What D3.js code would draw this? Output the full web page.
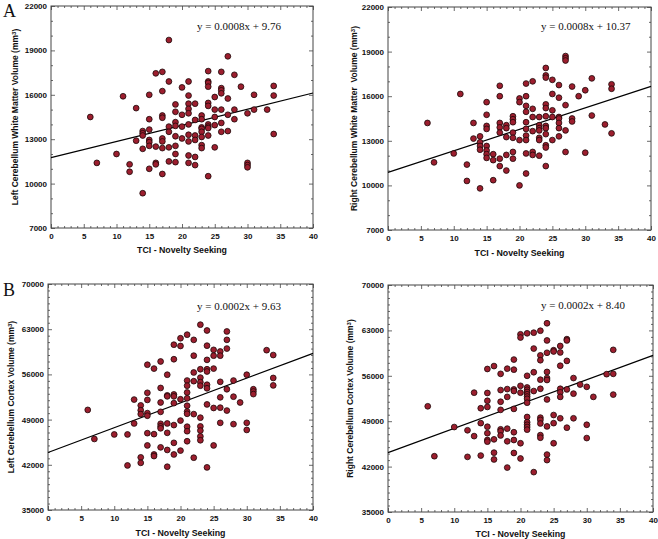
<!DOCTYPE html>
<html>
<head>
<meta charset="utf-8">
<script src="https://cdn.jsdelivr.net/npm/d3@7"></script>
<style>
html,body{margin:0;padding:0;background:#fff;}
svg{display:block;}
</style>
</head>
<body>
<script>
// ---------- DATA ----------
const xTicks = [0, 5, 10, 15, 20, 25, 30, 35, 40];
const yTicksWM = [7000, 10000, 13000, 16000, 19000, 22000];
const yTicksCx = [35000, 42000, 49000, 56000, 63000, 70000];
const xLabel = "TCI - Novelty Seeking";
const yLabels = ["Left Cerebellum White Matter Volume", "Right Cerebellum White Matter  Volume",
                 "Left Cerebellum Cortex Volume", "Right Cerebellum Cortex Volume"];
const equations = ["y = 0.0008x + 9.76", "y = 0.0008x + 10.37", "y = 0.0002x + 9.63", "y = 0.0002x + 8.40"];
const panelLetters = ["A", "B"];

// regression line values at x = 0 and x = 40
const lineLeftWM = [11750, 16120];
const lineRightWM = [10880, 16660];
const lineLeftCx = [43900, 59250];
const lineRightCx = [44150, 59150];

const leftWM = [
[6,14500],[7,11400],[10,12000],[11,15900],[12,11300],[12,10800],[13,15100],[13,12900],
[14,13550],[14,13400],[14,13250],[14,12350],[14,9350],
[15,16000],[15,14350],[15,13650],[15,12950],[15,12800],[15,12550],[15,11000],
[16,17450],[16,12500],[16,11400],[16,11300],
[17,17550],[17,16250],[17,14600],[17,14450],[17,13050],[17,12850],[17,12400],[17,10650],
[18,19700],[18,16900],[18,13850],[18,13500],[18,12450],[18,11500],
[19,15350],[19,14850],[19,14150],[19,13900],[19,13200],[19,12550],[19,12000],[19,11450],
[20,16500],[20,14650],[20,13850],[20,13050],
[21,16900],[21,15950],[21,15400],[21,15050],[21,14750],[21,14000],[21,13300],[21,12850],[21,11900],[21,11400],
[22,15400],[22,14300],[22,13250],[22,12950],[22,11800],[22,11250],
[23,14600],[23,14350],[23,13800],[23,13700],[23,13500],[23,13150],[23,12600],[23,12400],
[24,17600],[24,16900],[24,16800],[24,16550],[24,15450],[24,15250],[24,14000],[24,13850],[24,13750],[24,13250],[24,10500],
[25,15850],[25,15000],[25,14500],[25,13950],[25,12450],
[26,17550],[26,16450],[26,16300],[26,16100],[26,15000],[26,14100],[26,13500],
[27,18600],[27,15750],[27,14650],[27,13550],
[28,17350],[28,15000],[28,14350],
[29,16550],
[30,14750],[30,11400],[30,11250],[30,11100],
[31,16000],[31,15000],
[33,15000],
[34,16600],[34,15950],[34,13350]
];

const rightWM = [
[6,14200],[7,11550],[10,12150],[11,16150],[12,11400],[12,10300],[13,14200],[13,13150],
[14,13300],[14,12900],[14,12650],[14,12400],[14,9800],
[15,15600],[15,14750],[15,14000],[15,13800],[15,12650],[15,12350],[15,12100],[15,11850],
[16,12100],[16,11700],[16,10350],
[17,16700],[17,16000],[17,14200],[17,13900],[17,13550],[17,11800],[17,11300],
[18,14050],[18,13850],[18,13250],[18,12050],[18,11000],
[19,14650],[19,14450],[19,14250],[19,13550],[19,13200],[19,12250],[19,11800],
[20,15850],[20,15600],[20,13050],[20,10000],
[21,16850],[21,16000],[21,15350],[21,14950],[21,14250],[21,13800],[21,13350],[21,13050],[21,12150],[21,10800],
[22,17000],[22,15150],[22,14600],[22,13650],[22,12250],[22,12050],
[23,14600],[23,14050],[23,13850],[23,13700],[23,13200],[23,13050],[23,12000],
[24,17900],[24,17400],[24,17250],[24,15450],[24,15200],[24,14650],[24,14000],[24,13850],[24,13450],[24,12700],[24,12550],[24,11300],
[25,17100],[25,16150],[25,15050],[25,14600],[25,13050],
[26,16750],[26,15900],[26,14600],[26,14500],[26,14200],[26,13850],[26,13300],
[27,18700],[27,18550],[27,18400],[27,15400],[27,13700],[27,12250],
[28,16650],[28,14500],[28,14300],
[29,16000],
[30,16400],[30,12200],
[31,17200],[31,14700],
[33,14100],
[34,16800],[34,16500],[34,13500]
];

const leftCx = [
[6,50500],[7,46000],[10,46700],[12,46700],[12,41900],[13,52100],[13,48400],
[14,51200],[14,50450],[14,49850],[14,43150],[14,42300],
[15,57500],[15,53150],[15,52050],[15,50000],[15,49600],[15,46900],[15,45000],
[16,56900],[16,46750],[16,43600],[16,43350],
[17,58000],[17,53900],[17,51650],[17,50200],[17,48350],[17,47950],[17,47650],[17,44700],
[18,55950],[18,52750],[18,52600],[18,48400],[18,46950],[18,44300],[18,41700],
[19,60600],[19,58350],[19,52900],[19,52600],[19,51550],[19,48150],[19,45400],[19,43600],
[20,61600],[20,60400],[20,52150],[20,48850],[20,44200],
[21,62150],[21,55050],[21,54250],[21,53200],[21,52300],[21,51150],[21,50250],[21,49900],[21,47900],[21,47200],[21,45650],
[22,61350],[22,58900],[22,56300],[22,54950],[22,49850],[22,43100],
[23,63700],[23,56800],[23,55500],[23,54800],[23,54250],[23,49300],[23,47950],[23,47300],[23,46400],[23,45800],
[24,62800],[24,60450],[24,58250],[24,56800],[24,56450],[24,54400],[24,53850],[24,51350],[24,41600],
[25,59800],[25,58900],[25,56900],[25,50800],[25,45000],
[26,59550],[26,58900],[26,54850],[26,52450],[26,50850],[26,48500],
[27,62650],[27,61350],[27,60000],[27,53700],[27,50400],
[28,55050],[28,52550],[28,48300],
[29,51650],
[30,55950],[30,48500],[30,47400],
[31,53700],[31,53350],[31,52950],
[33,59750],
[34,59000],[34,55450],[34,54300]
];

const rightCx = [
[6,51300],[7,43600],[10,48100],[12,47600],[12,43500],[13,53400],[13,46700],
[14,51000],[14,48700],[14,43700],
[15,57050],[15,53350],[15,52150],[15,51200],[15,48150],[15,47150],[15,46100],[15,45850],
[16,57500],[16,46200],[16,44150],[16,43100],
[17,56300],[17,53800],[17,52000],[17,50750],[17,47750],[17,47450],[17,46800],
[18,57100],[18,53950],[18,52750],[18,47850],[18,45900],[18,41850],
[19,58500],[19,56950],[19,53900],[19,53650],[19,50900],[19,47300],[19,46100],[19,44100],
[20,62400],[20,61900],[20,54450],[20,53400],[20,45600],[20,43250],
[21,62550],[21,56000],[21,54200],[21,53850],[21,53500],[21,53150],[21,52800],[21,52450],[21,51850],[21,49650],[21,48850],[21,48450],[21,48100],[21,47700],
[22,62650],[22,60200],[22,56550],[22,53650],[22,41150],
[23,62950],[23,59150],[23,58400],[23,55400],[23,54000],[23,49550],[23,49200],[23,48650],[23,46850],[23,46450],
[24,64100],[24,61450],[24,59550],[24,56600],[24,55650],[24,55350],[24,52350],[24,48200],[24,43850],[24,43000],
[25,59950],[25,59750],[25,49950],[25,48700],[25,45600],
[26,60600],[26,59600],[26,57550],[26,54000],[26,53450],[26,52750],[26,49450],
[27,61650],[27,61450],[27,58300],[27,53900],[27,48000],
[28,55650],[28,53250],[28,49450],
[29,54650],
[30,54300],[30,48450],[30,46400],
[31,52750],
[33,56250],
[34,60000],[34,56300],[34,53100]
];

// ---------- LAYOUT ----------
const W = 658, H = 539;
const svg = d3.select("body").append("svg").attr("width", W).attr("height", H);
const sans = "'Liberation Sans', Arial, sans-serif";
const serif = "'Liberation Serif', 'Times New Roman', serif";

const panels = [
  {data: leftWM,  line: lineLeftWM,  yTicks: yTicksWM, ylab: yLabels[0], eq: equations[0],
   box: {l: 51, r: 313, t: 6, b: 228}, ylabX: 15, eqX: 197, eqY: 30, xlabY: 253},
  {data: rightWM, line: lineRightWM, yTicks: yTicksWM, ylab: yLabels[1], eq: equations[1],
   box: {l: 388, r: 651, t: 7, b: 230}, ylabX: 354, eqX: 541, eqY: 30, xlabY: 256},
  {data: leftCx,  line: lineLeftCx,  yTicks: yTicksCx, ylab: yLabels[2], eq: equations[2],
   box: {l: 48, r: 313, t: 284, b: 510}, ylabX: 11, eqX: 197, eqY: 310, xlabY: 536},
  {data: rightCx, line: lineRightCx, yTicks: yTicksCx, ylab: yLabels[3], eq: equations[3],
   box: {l: 388, r: 653, t: 285, b: 512}, ylabX: 350, eqX: 541, eqY: 309, xlabY: 537}
];

panels.forEach(p => {
  const b = p.box;
  const yDom = d3.extent(p.yTicks);
  const x = d3.scaleLinear().domain(d3.extent(xTicks)).range([b.l, b.r]);
  const y = d3.scaleLinear().domain(yDom).range([b.b, b.t]);
  const g = svg.append("g");

  const xMinor = d3.range(xTicks[0], xTicks[xTicks.length - 1] + 1, 1).filter(v => !xTicks.includes(v));
  const yMinor = d3.range(yDom[0], yDom[1] + 1, 1000).filter(v => !p.yTicks.includes(v));

  const styleAxis = sel => {
    sel.select(".domain").remove();
    sel.selectAll("line").attr("stroke", "#444").attr("stroke-width", 0.8);
    sel.selectAll("text").attr("fill", "#111").style("font-family", sans)
      .style("font-size", "8px").style("font-weight", "bold");
  };

  // major ticks with labels
  g.append("g").attr("transform", `translate(0,${b.b})`)
    .call(d3.axisBottom(x).tickValues(xTicks).tickSize(-4).tickPadding(5).tickFormat(d3.format("d")))
    .call(styleAxis);
  g.append("g").attr("transform", `translate(${b.l},0)`)
    .call(d3.axisLeft(y).tickValues(p.yTicks).tickSize(-4).tickPadding(4).tickFormat(d3.format("d")))
    .call(styleAxis);
  g.append("g").attr("transform", `translate(0,${b.t})`)
    .call(d3.axisTop(x).tickValues(xTicks).tickSize(-4).tickFormat(""))
    .call(styleAxis);
  g.append("g").attr("transform", `translate(${b.r},0)`)
    .call(d3.axisRight(y).tickValues(p.yTicks).tickSize(-4).tickFormat(""))
    .call(styleAxis);
  // minor ticks
  g.append("g").attr("transform", `translate(0,${b.b})`)
    .call(d3.axisBottom(x).tickValues(xMinor).tickSize(-2).tickFormat("")).call(styleAxis);
  g.append("g").attr("transform", `translate(0,${b.t})`)
    .call(d3.axisTop(x).tickValues(xMinor).tickSize(-2).tickFormat("")).call(styleAxis);
  g.append("g").attr("transform", `translate(${b.l},0)`)
    .call(d3.axisLeft(y).tickValues(yMinor).tickSize(-2).tickFormat("")).call(styleAxis);
  g.append("g").attr("transform", `translate(${b.r},0)`)
    .call(d3.axisRight(y).tickValues(yMinor).tickSize(-2).tickFormat("")).call(styleAxis);

  // frame
  g.append("rect").attr("x", b.l).attr("y", b.t).attr("width", b.r - b.l).attr("height", b.b - b.t)
    .attr("fill", "none").attr("stroke", "#444").attr("stroke-width", 1);

  // regression line
  g.append("line")
    .attr("x1", x(xTicks[0])).attr("y1", y(p.line[0]))
    .attr("x2", x(xTicks[xTicks.length - 1])).attr("y2", y(p.line[1]))
    .attr("stroke", "#000").attr("stroke-width", 1.2);

  // points
  g.append("g").selectAll("circle").data(p.data).join("circle")
    .attr("cx", d => x(d[0])).attr("cy", d => y(d[1])).attr("r", 2.9)
    .attr("fill", "#9c1e2e").attr("stroke", "#1a0808").attr("stroke-width", 0.8);

  // equation
  g.append("text").attr("x", p.eqX).attr("y", p.eqY).text(p.eq)
    .style("font-family", serif).style("font-size", "11px").attr("fill", "#111");

  // x label
  g.append("text").attr("x", (b.l + b.r) / 2).attr("y", p.xlabY).attr("text-anchor", "middle")
    .text(xLabel).style("font-family", sans).style("font-size", "8.8px").style("font-weight", "bold").attr("fill", "#111");

  // y label
  const yl = g.append("text")
    .attr("transform", `translate(${p.ylabX},${(b.t + b.b) / 2}) rotate(-90)`)
    .attr("text-anchor", "middle").attr("dy", "0.35em")
    .style("font-family", sans).style("font-size", "8.5px").style("font-weight", "bold").attr("fill", "#111")
    .style("white-space", "pre");
  yl.append("tspan").text(p.ylab + " (mm");
  yl.append("tspan").text("3").attr("dy", "-0.4em").style("font-size", "6px");
  yl.append("tspan").text(")").attr("dy", "0.4em");
});

// panel letters
svg.append("text").attr("x", 3).attr("y", 17).text(panelLetters[0])
  .style("font-family", serif).style("font-size", "18px").attr("fill", "#111");
svg.append("text").attr("x", 3).attr("y", 296).text(panelLetters[1])
  .style("font-family", serif).style("font-size", "18px").attr("fill", "#111");
</script>
</body>
</html>
